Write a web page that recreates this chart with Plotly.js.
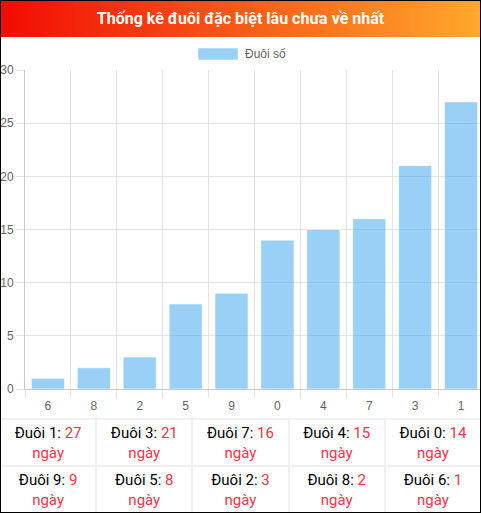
<!DOCTYPE html>
<html>
<head>
<meta charset="utf-8">
<script src="https://cdn.plot.ly/plotly-3.0.1.min.js"></script>
<style>
    html, body { margin: 0; padding: 0; background: #fff; overflow: hidden; }
    #box {
        position: relative;
        width: 479px; height: 511px;
        border: 1px solid #000;
        overflow: hidden;
        font-family: Roboto, sans-serif;
    }
    #head {
        height: 36px; line-height: 36px;
        background: linear-gradient(to right, #f20c02, #ffa82b);
        color: #fff; font-weight: bold; font-size: 16px;
        text-align: center;
    }
    #chart1 { position: absolute; left: 0; top: 36px; width: 490px; height: 381px; }
    #tbl {
        position: absolute; left: 0; top: 417px; width: 479px; height: 94px;
        box-sizing: border-box; padding-top: 2px;
        background: #f0f0f0;
        display: grid; grid-template-columns: repeat(5, 1fr); grid-template-rows: 45px 45px;
        column-gap: 2px; row-gap: 2px;
    }
    .cell {
        background: #fff;
        display: flex; flex-direction: column; justify-content: center; align-items: center;
        font-size: 15px; line-height: 20px; color: #000;
    }
    .red { color: #f0364a; }
</style>
</head>
<body>
<div id="box">
    <div id="head">Thống kê đuôi đặc biệt lâu chưa về nhất</div>
    <div id="chart1"></div>
    <div id="tbl"></div>
</div>
<script>
// tails, ordered as in the chart (fewest days first)
var tails = ['6', '8', '2', '5', '9', '0', '4', '7', '3', '1']
var days  = [1, 2, 3, 8, 9, 14, 15, 16, 21, 27]
var seriesName = 'Đuôi số'

var barFill = 'rgba(54,162,235,0.5)'
var gridColor = '#e4e4e4'
var axisColor = '#c9c9c9'
var tickFont = {family: 'Liberation Sans, Arial, sans-serif', size: 12, color: '#666'}

// plot area in pixels inside the chart div (chart div starts 37px down the page)
var M = {l: 24, r: 7, t: 33, b: 29}
var W = 490, H = 381
var pw = W - M.l - M.r, ph = H - M.t - M.b
function px(x) { return (x - M.l) / pw }
function py(y) { return (H - M.b - y) / ph }

var trace = {
    x: tails,
    y: days,
    type: 'bar',
    name: seriesName,
    marker: {color: barFill, line: {color: 'rgba(255,255,255,0.55)', width: 1}},
    hoverinfo: 'x+y',
}

var layout = {
    width: W, height: H,
    margin: M,
    showlegend: false,
    bargap: 0.28,
    plot_bgcolor: '#fff',
    paper_bgcolor: 'rgba(0,0,0,0)',
    xaxis: {
        type: 'category',
        categoryorder: 'array',
        categoryarray: tails,
        tickson: 'boundaries',
        ticks: 'outside', ticklen: 8, tickcolor: gridColor,
        ticklabelstandoff: 6,
        showgrid: true, gridcolor: gridColor,
        showline: true, linecolor: axisColor,
        tickfont: tickFont,
        fixedrange: true,
    },
    yaxis: {
        range: [0, 30], dtick: 5,
        ticks: 'outside', ticklen: 8, tickcolor: gridColor,
        showgrid: true, gridcolor: gridColor,
        showline: true, linecolor: axisColor,
        zeroline: false,
        tickfont: tickFont,
        fixedrange: true,
    },
    // legend drawn by hand: Chart.js-style wide colour box
    shapes: [{
        type: 'rect', xref: 'paper', yref: 'paper',
        x0: px(197), x1: px(237), y0: py(23), y1: py(11),
        fillcolor: barFill, line: {color: 'rgba(255,255,255,0.55)', width: 1},
    }],
    annotations: [{
        xref: 'paper', yref: 'paper', x: px(242), y: py(17),
        xanchor: 'left', yanchor: 'middle', showarrow: false,
        text: seriesName, font: tickFont,
    }],
}

Plotly.newPlot('chart1', [trace], layout, {displayModeBar: false, staticPlot: true})

// table below: most days first, 5 per row
var order = days.map(function (d, i) { return i }).reverse()
var tbl = document.getElementById('tbl')
for (var k = 0; k < order.length; k++) {
    var i = order[k]
    var c = document.createElement('div')
    c.className = 'cell'
    c.innerHTML = '<div>Đuôi ' + tails[i] + ': <span class="red">' + days[i] + '</span></div><div class="red">ngày</div>'
    tbl.appendChild(c)
}
</script>
</body>
</html>
